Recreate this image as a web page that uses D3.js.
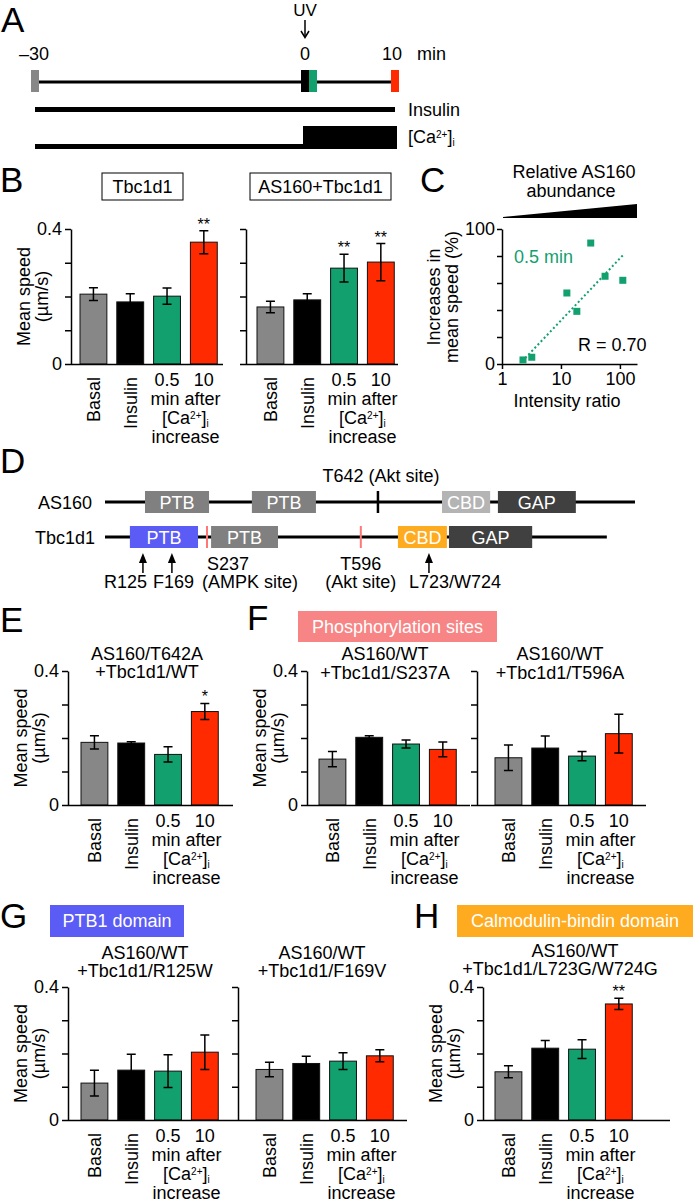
<!DOCTYPE html>
<html><head><meta charset="utf-8">
<script src="https://cdn.jsdelivr.net/npm/d3@7"></script>
<style>body{margin:0;background:#fff} svg{display:block}</style>
</head><body>
<svg id="fig" width="693" height="1203"></svg>
<script>
// ================= DATA =================
// Panel A (timeline, minutes)
const timeTicks = [-30, 0, 10];
const timeTickLabels = ["\u201330", "0", "10"];
const insulinPeriod = [-30, 10];
const caLowPeriod = [-30, 0];
const caHighPeriod = [0, 10];
const imagingTimes = [-30, 0, 0.5, 10];

// Bar charts (mean speed, um/s)
const categories = ["Basal", "Insulin", "0.5", "10"];
const yTickValues = [0, 0.1, 0.2, 0.3, 0.4];
const yTickLabels = ["0", "", "", "", "0.4"];

const tbc1d1Mean = [0.207, 0.184, 0.201, 0.361];
const tbc1d1Err  = [0.019, 0.024, 0.024, 0.034];
const tbc1d1Sig  = ["", "", "", "**"];

const as160Tbc1d1Mean = [0.169, 0.190, 0.284, 0.302];
const as160Tbc1d1Err  = [0.017, 0.018, 0.041, 0.055];
const as160Tbc1d1Sig  = ["", "", "**", "**"];

const t642aMean = [0.187, 0.185, 0.151, 0.279];
const t642aErr  = [0.020, 0.004, 0.023, 0.024];
const t642aSig  = ["", "", "", "*"];

const s237aMean = [0.137, 0.202, 0.182, 0.166];
const s237aErr  = [0.023, 0.005, 0.012, 0.022];

const t596aMean = [0.141, 0.170, 0.146, 0.213];
const t596aErr  = [0.038, 0.036, 0.014, 0.058];

const r125wMean = [0.111, 0.150, 0.147, 0.204];
const r125wErr  = [0.039, 0.048, 0.049, 0.052];

const f169vMean = [0.152, 0.170, 0.177, 0.193];
const f169vErr  = [0.022, 0.022, 0.025, 0.018];

const l723gMean = [0.145, 0.216, 0.213, 0.349];
const l723gErr  = [0.018, 0.023, 0.028, 0.017];
const l723gSig  = ["", "", "", "**"];

const noSig = ["", "", "", ""];

// Panel C (scatter)
const intensityRatio = [2.27, 3.2, 12.6, 18.6, 32, 56, 112];
const speedIncrease  = [3, 5, 52.6, 39, 89.6, 65, 62];
const fitRatio = [2.2, 115];
const fitIncrease = [2, 81];
const cXTicks = [1, 10, 100];
const cYTicks = [0, 20, 40, 60, 80, 100];
const cYTickLabels = ["0", "", "", "", "", "100"];

// Panel D (domain diagram, residue-like units)
const as160Length = 1299;
const as160DomainNames = ["PTB", "PTB", "CBD", "GAP"];
const as160DomainStart = [98, 360, 826, 963];
const as160DomainEnd   = [255, 517, 944, 1154];
const as160SitePos = [669];
const tbc1d1Length = 1230;
const tbc1d1DomainNames = ["PTB", "PTB", "CBD", "GAP"];
const tbc1d1DomainStart = [61, 260, 718, 843];
const tbc1d1DomainEnd   = [228, 424, 838, 1047];
const tbc1d1SitePos = [250, 627];
const tbc1d1MutPos = [93, 164, 794];

// ================= STYLE =================
const FONT = '"Liberation Sans", Arial, Helvetica, sans-serif';
const GRAY = "#878787", GREEN = "#12a06e", RED = "#ff2a00";
const barFill = [GRAY, "#000", GREEN, RED];
const BLUE = "#5b5bf5", ORANGE = "#ffab1f", PINK = "#f78585", SITE_RED = "#ff7878";
const as160DomainColors = ["#808080", "#808080", "#b4b4b4", "#404040"];
const tbc1d1DomainColors = [BLUE, "#808080", ORANGE, "#404040"];

const svg = d3.select("#fig").attr("font-family", FONT);
svg.append("rect").attr("width", 693).attr("height", 1203).attr("fill", "#fff");

function txt(g, s, x, y, o = {}) {
  const t = g.append("text").attr("x", x).attr("y", y)
    .attr("font-size", o.size || 18).attr("text-anchor", o.anchor || "start")
    .attr("fill", o.fill || "#000").text(s);
  if (o.rotate) t.attr("transform", `rotate(-90 ${x} ${y})`);
  return t;
}
function caText(g, x, y, anchor, size) {
  const t = g.append("text").attr("x", x).attr("y", y).attr("text-anchor", anchor).attr("font-size", size);
  t.append("tspan").text("[Ca");
  t.append("tspan").attr("dy", -5).attr("font-size", 10).text("2+");
  t.append("tspan").attr("dy", 5).text("]");
  t.append("tspan").attr("dy", 3).attr("font-size", 10).text("i");
  return t;
}

// ================= PANEL LETTERS =================
[["A", 1, 32], ["B", 0, 192], ["C", 420, 192], ["D", 0, 473], ["E", 0, 632],
 ["F", 247, 630], ["G", 0, 928], ["H", 414, 928]].forEach(([l, x, y]) => txt(svg, l, x, y, { size: 35 }));

// ================= PANEL A =================
(function () {
  const g = svg.append("g");
  const t = d3.scaleLinear().domain([-30, 10]).range([35, 395]);
  txt(g, "UV", t(0), 16, { anchor: "middle", size: 17 });
  g.append("line").attr("x1", t(0)).attr("x2", t(0)).attr("y1", 20).attr("y2", 37).attr("stroke", "#000").attr("stroke-width", 1.5);
  g.append("path").attr("d", `M${t(0) - 4},31 L${t(0)},37.5 L${t(0) + 4},31`).attr("fill", "none").attr("stroke", "#000").attr("stroke-width", 1.5);
  timeTicks.forEach((v, i) => txt(g, timeTickLabels[i], t(v) + (i === 0 ? -1 : i === 2 ? -3 : 0), 60, { anchor: "middle" }));
  txt(g, "min", 417, 60);
  g.append("line").attr("x1", t(-30)).attr("x2", t(10)).attr("y1", 82).attr("y2", 82).attr("stroke", "#000").attr("stroke-width", 3);
  const markerColors = [GRAY, "#000", GREEN, RED];
  let prevRight = -Infinity;
  imagingTimes.forEach((v, i) => {
    const left = Math.max(t(v) - 4, prevRight);
    g.append("rect").attr("x", left).attr("y", 70).attr("width", 8).attr("height", 22).attr("fill", markerColors[i]);
    prevRight = left + 8;
  });
  g.append("rect").attr("x", t(insulinPeriod[0])).attr("width", t(insulinPeriod[1]) - t(insulinPeriod[0])).attr("y", 107).attr("height", 5).attr("fill", "#000");
  txt(g, "Insulin", 408, 116);
  g.append("rect").attr("x", t(caLowPeriod[0])).attr("width", t(caLowPeriod[1]) - t(caLowPeriod[0])).attr("y", 144).attr("height", 5).attr("fill", "#000");
  g.append("rect").attr("x", t(caHighPeriod[0]) - 2).attr("width", t(caHighPeriod[1]) - t(caHighPeriod[0]) + 4).attr("y", 126).attr("height", 23).attr("fill", "#000");
  caText(g, 408, 143, "start", 18);
})();

// ================= BAR CHARTS =================
function barChart(s) {
  const g = svg.append("g");
  const y = d3.scaleLinear().domain([0, 0.4]).range([s.yBase, s.yTop]);
  const step = 36.8;
  const r0 = s.firstBar - 0.135 * step;
  const x = d3.scaleBand().domain(categories).range([r0, r0 + 4 * step]).paddingInner(0.27).paddingOuter(0.135);
  const bw = x.bandwidth();
  const cx = c => x(c) + bw / 2;

  g.selectAll("rect.bar").data(categories).join("rect").attr("class", "bar")
    .attr("x", c => x(c)).attr("y", (c, i) => y(s.mean[i]))
    .attr("width", bw).attr("height", (c, i) => s.yBase - y(s.mean[i]))
    .attr("fill", (c, i) => barFill[i]).attr("stroke", "#111").attr("stroke-width", 1);
  categories.forEach((c, i) => {
    const hi = y(s.mean[i] + s.err[i]), lo = y(s.mean[i] - s.err[i]);
    g.append("path").attr("d", `M${cx(c)},${hi}V${lo}M${cx(c) - 4.5},${hi}H${cx(c) + 4.5}M${cx(c) - 4.5},${lo}H${cx(c) + 4.5}`)
      .attr("stroke", "#000").attr("stroke-width", 1.5).attr("fill", "none");
    if (s.sig[i]) txt(g, s.sig[i], cx(c), hi - 1, { anchor: "middle", size: 16 });
  });
  const ax = d3.axisLeft(y).tickValues(yTickValues).tickSize(6).tickSizeOuter(0).tickPadding(3)
    .tickFormat((d, i) => s.labels ? yTickLabels[i] : "");
  const ag = g.append("g").attr("transform", `translate(${s.axisX},0)`).call(ax);
  ag.attr("font-size", 18).attr("font-family", FONT);
  ag.selectAll("line,path").attr("stroke", "#000").attr("stroke-width", 1.5);
  g.append("line").attr("x1", s.axisX).attr("x2", s.axisEnd).attr("y1", s.yBase + 0.5).attr("y2", s.yBase + 0.5)
    .attr("stroke", "#000").attr("stroke-width", 1.5);
  ["Basal", "Insulin"].forEach(c => txt(g, c, cx(c) + 6.5, s.yBase + 13, { anchor: "end", rotate: true }));
  ["0.5", "10"].forEach(c => txt(g, c, cx(c), s.yBase + 22, { anchor: "middle" }));
  const mid = (cx("0.5") + cx("10")) / 2;
  txt(g, "min after", mid, s.yBase + 41, { anchor: "middle" });
  caText(g, mid, s.yBase + 60, "middle", 18);
  txt(g, "increase", mid, s.yBase + 79, { anchor: "middle" });
  if (s.yTitle) {
    const cy = (s.yTop + s.yBase) / 2;
    txt(g, "Mean speed", s.axisX - 41, cy, { anchor: "middle", rotate: true });
    txt(g, "(\u00b5m/s)", s.axisX - 23, cy, { anchor: "middle", rotate: true });
  }
  if (s.title) s.title.forEach((l, i) => txt(g, l, s.titleX[i], s.titleY[i], { anchor: "middle" }));
}

// Panel B
const bBox = svg.append("g");
bBox.append("rect").attr("x", 102).attr("y", 173).attr("width", 81).attr("height", 27).attr("fill", "#fff").attr("stroke", "#000").attr("stroke-width", 1);
txt(bBox, "Tbc1d1", 142.5, 193, { anchor: "middle" });
bBox.append("rect").attr("x", 250).attr("y", 173).attr("width", 141).attr("height", 27).attr("fill", "#fff").attr("stroke", "#000").attr("stroke-width", 1);
txt(bBox, "AS160+Tbc1d1", 320.5, 193, { anchor: "middle" });

barChart({ mean: tbc1d1Mean, err: tbc1d1Err, sig: tbc1d1Sig, axisX: 71, firstBar: 80, axisEnd: 223, yTop: 229, yBase: 364, labels: true, yTitle: true });
barChart({ mean: as160Tbc1d1Mean, err: as160Tbc1d1Err, sig: as160Tbc1d1Sig, axisX: 246, firstBar: 257, axisEnd: 398, yTop: 229, yBase: 364, labels: false, yTitle: false });

// Panel E
barChart({ mean: t642aMean, err: t642aErr, sig: t642aSig, axisX: 68, firstBar: 81, axisEnd: 233, yTop: 671, yBase: 805, labels: true, yTitle: true,
  title: ["AS160/T642A", "+Tbc1d1/WT"], titleX: [147, 147], titleY: [660, 678] });

// Panel F
const fG = svg.append("g");
fG.append("rect").attr("x", 298).attr("y", 611).attr("width", 199).attr("height", 31).attr("fill", PINK);
txt(fG, "Phosphorylation sites", 397.5, 633, { anchor: "middle", fill: "#fff" });
barChart({ mean: s237aMean, err: s237aErr, sig: noSig, axisX: 307, firstBar: 319, axisEnd: 470, yTop: 671, yBase: 805, labels: true, yTitle: true,
  title: ["AS160/WT", "+Tbc1d1/S237A"], titleX: [385, 385], titleY: [660, 679] });
barChart({ mean: t596aMean, err: t596aErr, sig: noSig, axisX: 477, firstBar: 495, axisEnd: 646, yTop: 671, yBase: 805, labels: false, yTitle: false,
  title: ["AS160/WT", "+Tbc1d1/T596A"], titleX: [560, 560], titleY: [660, 679] });

// Panel G
const gG = svg.append("g");
gG.append("rect").attr("x", 50).attr("y", 905).attr("width", 134).attr("height", 32).attr("fill", BLUE);
txt(gG, "PTB1 domain", 117, 927, { anchor: "middle", fill: "#fff" });
barChart({ mean: r125wMean, err: r125wErr, sig: noSig, axisX: 68, firstBar: 81, axisEnd: 232, yTop: 987, yBase: 1120, labels: true, yTitle: true,
  title: ["AS160/WT", "+Tbc1d1/R125W"], titleX: [145, 145], titleY: [959, 977] });
barChart({ mean: f169vMean, err: f169vErr, sig: noSig, axisX: 238, firstBar: 256, axisEnd: 407, yTop: 987, yBase: 1120, labels: false, yTitle: false,
  title: ["AS160/WT", "+Tbc1d1/F169V"], titleX: [322, 322], titleY: [959, 977] });

// Panel H
const hG = svg.append("g");
hG.append("rect").attr("x", 457).attr("y", 905).attr("width", 236).attr("height", 32).attr("fill", ORANGE);
txt(hG, "Calmodulin-bindin domain", 575, 927, { anchor: "middle", fill: "#fff" });
barChart({ mean: l723gMean, err: l723gErr, sig: l723gSig, axisX: 483, firstBar: 495, axisEnd: 670, yTop: 987, yBase: 1120, labels: true, yTitle: true,
  title: ["AS160/WT", "+Tbc1d1/L723G/W724G"], titleX: [575, 560], titleY: [957, 975] });

// ================= PANEL C =================
(function () {
  const g = svg.append("g");
  const x = d3.scaleLog().domain([1, 195]).range([502, 637]);
  const y = d3.scaleLinear().domain([0, 100]).range([364, 229]);
  txt(g, "Relative AS160", 574, 178, { anchor: "middle" });
  txt(g, "abundance", 571, 197, { anchor: "middle" });
  const [xa, xb] = x.range();
  g.append("path").attr("d", `M${xa + 1},217 L${xb},204 L${xb},218 L${xa + 1},218Z`).attr("fill", "#000");

  const ya = d3.axisLeft(y).tickValues(cYTicks).tickSize(5).tickSizeOuter(0).tickPadding(2)
    .tickFormat((d, i) => cYTickLabels[i]);
  const yg = g.append("g").attr("transform", `translate(${xa},0)`).call(ya);
  yg.attr("font-size", 18).attr("font-family", FONT);
  yg.selectAll("line,path").attr("stroke", "#000").attr("stroke-width", 1.5);

  const xAx = d3.axisBottom(x).tickValues(cXTicks).tickSize(5).tickSizeOuter(0).tickPadding(3).tickFormat(d3.format("d"));
  const xg = g.append("g").attr("transform", `translate(0,${y(0)})`).call(xAx);
  xg.attr("font-size", 18).attr("font-family", FONT);
  xg.selectAll("line,path").attr("stroke", "#000").attr("stroke-width", 1.5);

  txt(g, "Intensity ratio", 567, 407, { anchor: "middle" });
  txt(g, "Increases in", 440, 297, { anchor: "middle", rotate: true });
  txt(g, "mean speed (%)", 458, 297, { anchor: "middle", rotate: true });

  g.append("line").attr("x1", x(fitRatio[0])).attr("y1", y(fitIncrease[0])).attr("x2", x(fitRatio[1])).attr("y2", y(fitIncrease[1]))
    .attr("stroke", GREEN).attr("stroke-width", 2).attr("stroke-dasharray", "2,2.5");
  g.selectAll("rect.pt").data(intensityRatio).join("rect").attr("class", "pt")
    .attr("x", (d) => x(d) - 3.5).attr("y", (d, i) => y(speedIncrease[i]) - 3.5)
    .attr("width", 7).attr("height", 7).attr("fill", GREEN);
  txt(g, "0.5 min", 514, 263, { fill: GREEN });
  txt(g, "R = 0.70", 578, 351);
})();

// ================= PANEL D =================
(function () {
  const g = svg.append("g");
  const x = d3.scaleLinear().domain([0, 1300]).range([105, 635.4]);
  const rows = [
    { name: "AS160", y: 502, len: as160Length, names: as160DomainNames, st: as160DomainStart, en: as160DomainEnd, col: as160DomainColors, labelX: 92 },
    { name: "Tbc1d1", y: 537, len: tbc1d1Length, names: tbc1d1DomainNames, st: tbc1d1DomainStart, en: tbc1d1DomainEnd, col: tbc1d1DomainColors, labelX: 95 }
  ];
  rows.forEach(r => {
    txt(g, r.name, r.labelX, r.y + 6.5, { anchor: "end" });
    g.append("line").attr("x1", x(0)).attr("x2", x(r.len)).attr("y1", r.y).attr("y2", r.y).attr("stroke", "#000").attr("stroke-width", 3);
    r.names.forEach((n, i) => {
      g.append("rect").attr("x", x(r.st[i])).attr("y", r.y - 11).attr("width", x(r.en[i]) - x(r.st[i])).attr("height", 22).attr("fill", r.col[i]);
      txt(g, n, (x(r.st[i]) + x(r.en[i])) / 2, r.y + 6.5, { anchor: "middle", fill: "#fff" });
    });
  });
  as160SitePos.forEach(p => {
    g.append("line").attr("x1", x(p)).attr("x2", x(p)).attr("y1", 491).attr("y2", 513).attr("stroke", "#000").attr("stroke-width", 2.5);
  });
  txt(g, "T642 (Akt site)", x(as160SitePos[0]) + 3, 482, { anchor: "middle" });
  tbc1d1SitePos.forEach(p => {
    g.append("line").attr("x1", x(p)).attr("x2", x(p)).attr("y1", 526).attr("y2", 548).attr("stroke", SITE_RED).attr("stroke-width", 2);
  });
  txt(g, "S237", x(tbc1d1SitePos[0]), 570);
  txt(g, "(AMPK site)", x(tbc1d1SitePos[0]) - 5, 588);
  txt(g, "T596", x(tbc1d1SitePos[1]), 570, { anchor: "middle" });
  txt(g, "(Akt site)", x(tbc1d1SitePos[1]), 588, { anchor: "middle" });
  tbc1d1MutPos.forEach(p => {
    const ax = x(p);
    g.append("line").attr("x1", ax).attr("x2", ax).attr("y1", 560).attr("y2", 573).attr("stroke", "#000").attr("stroke-width", 1.5);
    g.append("path").attr("d", `M${ax - 4},563 L${ax},553 L${ax + 4},563Z`).attr("fill", "#000");
  });
  txt(g, "R125", x(tbc1d1MutPos[0]) + 4, 588, { anchor: "end" });
  txt(g, "F169", x(tbc1d1MutPos[1]) - 19, 588);
  txt(g, "L723/W724", x(tbc1d1MutPos[2]) - 20, 588);
})();
</script>
</body></html>
